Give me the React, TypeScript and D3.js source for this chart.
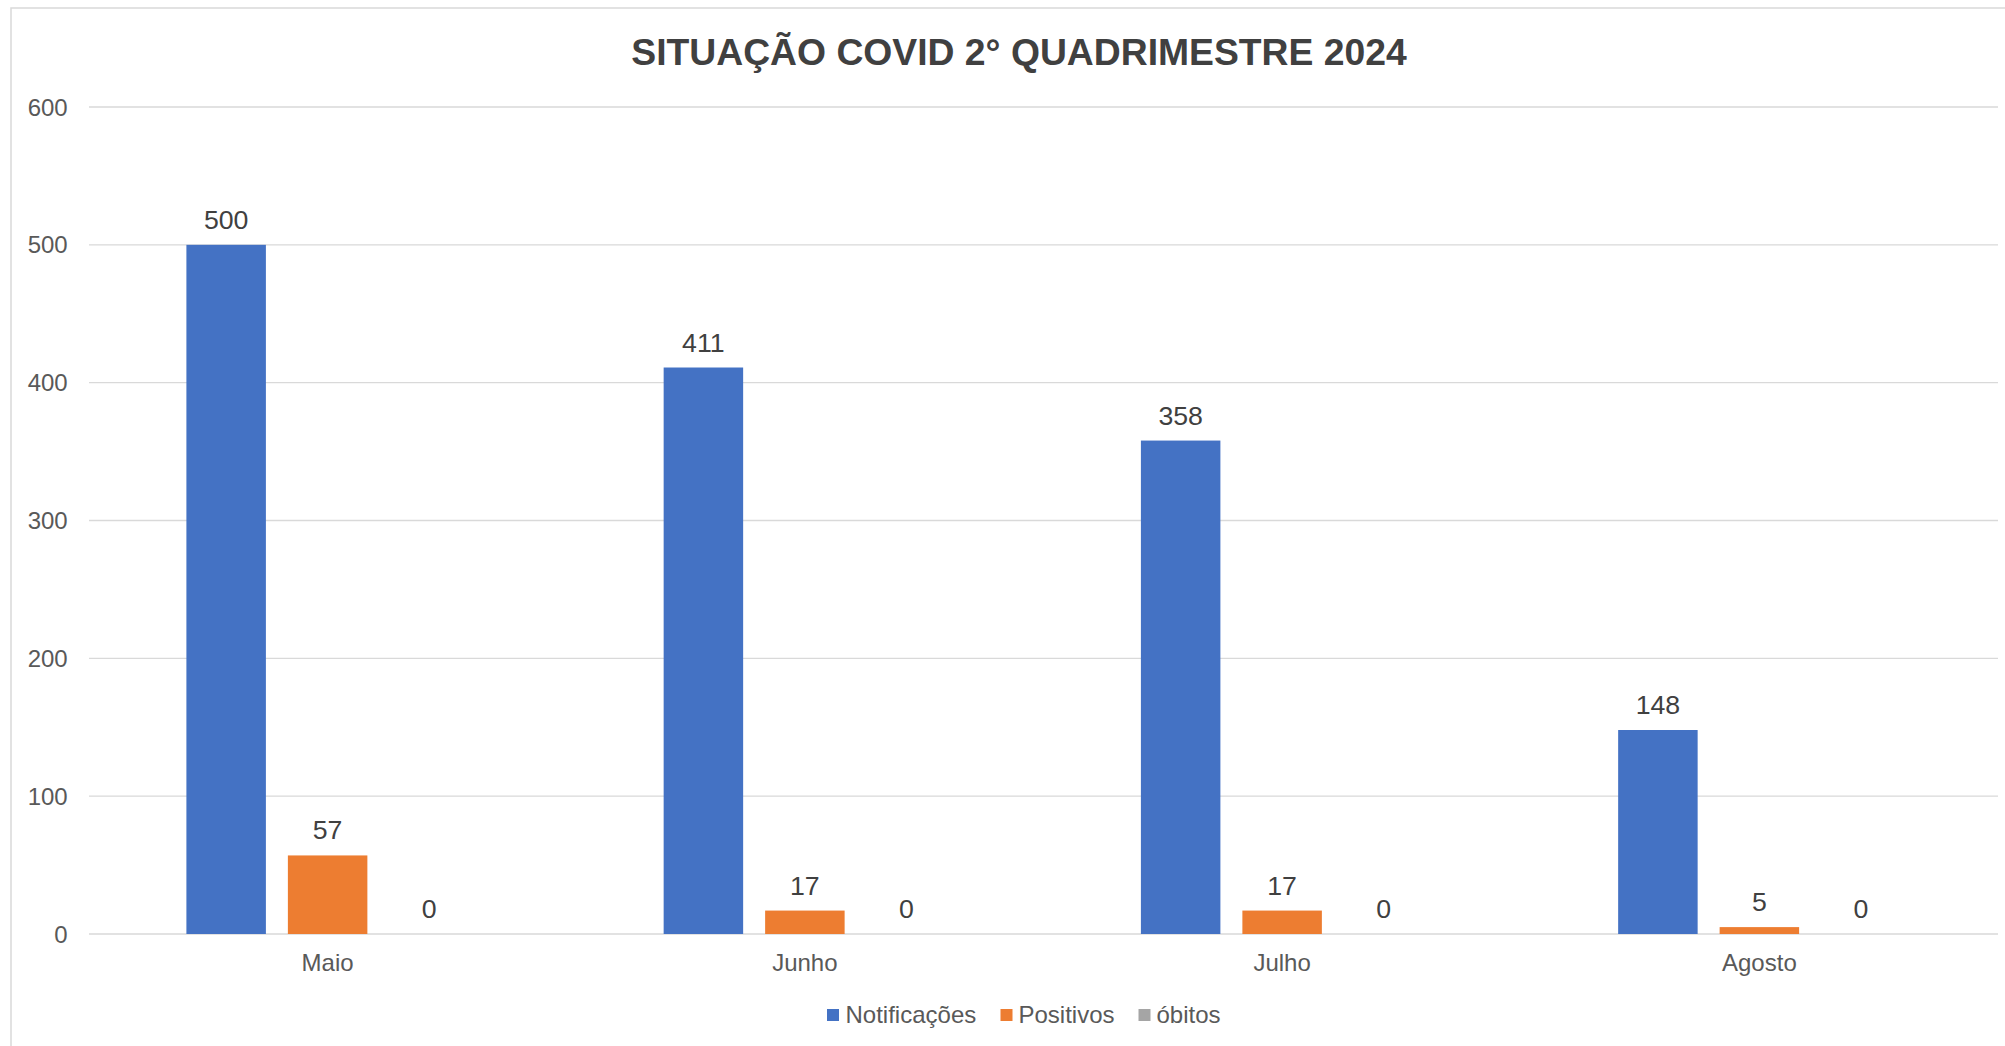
import React from "react";
import * as d3 from "d3";

const categories = ["Maio", "Junho", "Julho", "Agosto"];
const seriesNames = ["Notificações", "Positivos", "óbitos"];
const notificacoes = [500, 411, 358, 148];
const positivos = [57, 17, 17, 5];
const obitos = [0, 0, 0, 0];
const yTicks = [0, 100, 200, 300, 400, 500, 600];
const title = "SITUAÇÃO COVID 2° QUADRIMESTRE 2024";

const colors = ["#4472C4", "#ED7D31", "#A5A5A5"];

const W = 2005;
const H = 1046;
const plotLeft = 89;
const plotRight = 1998;
const plotTop = 107;
const plotBottom = 934;
const FONT = "'Liberation Sans', Arial, sans-serif";

export default function App() {
  const seriesValues = [notificacoes, positivos, obitos];
  const x0 = d3.scaleBand<string>().domain(categories).range([plotLeft, plotRight]).padding(0);
  const bw0 = x0.bandwidth();
  const outer = 97.4;
  const x1 = d3
    .scaleBand<string>()
    .domain(seriesNames)
    .range([outer, bw0 - outer])
    .paddingInner(0.2167)
    .paddingOuter(0);
  const y = d3.scaleLinear().domain([0, 600]).range([plotBottom, plotTop]);

  const legendItems = [
    { name: seriesNames[0], sq: 827, tx: 845.5 },
    { name: seriesNames[1], sq: 1000.5, tx: 1018.5 },
    { name: seriesNames[2], sq: 1138.5, tx: 1156.5 },
  ];

  return (
    <svg
      width={W}
      height={H}
      style={{ position: "absolute", left: 0, top: 0, background: "#fff" }}
      fontFamily={FONT}
    >
      <rect x={0} y={0} width={W} height={H} fill="#fff" />
      <rect x={11} y={8} width={W + 50} height={H + 50} fill="#fff" stroke="#D9D9D9" strokeWidth={1.5} />
      <text
        x={1019}
        y={65}
        textAnchor="middle"
        fontSize={37.3}
        fontWeight="bold"
        fill="#404040"
      >
        {title}
      </text>
      {yTicks.map((t) => (
        <g key={t}>
          <line
            x1={plotLeft}
            x2={plotRight}
            y1={y(t)}
            y2={y(t)}
            stroke="#D9D9D9"
            strokeWidth={t === 0 ? 1.5 : 1.3}
          />
          <text
            x={67.7}
            y={y(t)}
            dy="0.36em"
            textAnchor="end"
            fontSize={24}
            fill="#595959"
          >
            {t}
          </text>
        </g>
      ))}
      {categories.map((c, ci) => (
        <g key={c} transform={`translate(${x0(c)},0)`}>
          {seriesNames.map((s, si) => {
            const v = seriesValues[si][ci];
            const bx = x1(s)!;
            const bwid = x1.bandwidth();
            return (
              <g key={s}>
                <rect
                  x={bx}
                  y={y(v)}
                  width={bwid}
                  height={y(0) - y(v)}
                  fill={colors[si]}
                />
                <text
                  x={bx + bwid / 2}
                  y={y(v) - 16}
                  textAnchor="middle"
                  fontSize={26.7}
                  fill="#404040"
                >
                  {v}
                </text>
              </g>
            );
          })}
          <text
            x={bw0 / 2}
            y={970.5}
            textAnchor="middle"
            fontSize={24}
            fill="#595959"
          >
            {c}
          </text>
        </g>
      ))}
      {legendItems.map((it, i) => (
        <g key={it.name}>
          <rect x={it.sq} y={1009} width={12} height={12} fill={colors[i]} />
          <text x={it.tx} y={1022.7} fontSize={24} fill="#595959">
            {it.name}
          </text>
        </g>
      ))}
    </svg>
  );
}
